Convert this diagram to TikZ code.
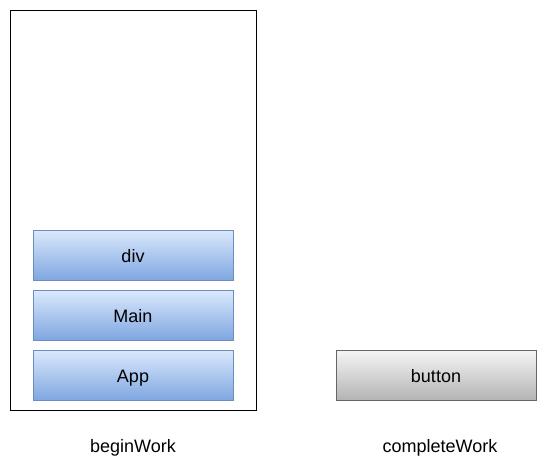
\documentclass[tikz,border=0pt]{standalone}
\usepackage{fontspec}
\setmainfont{Liberation Sans}
\usetikzlibrary{shadings}
\definecolor{bluetop}{HTML}{DAE8FC}
\definecolor{bluebot}{HTML}{7EA6E0}
\definecolor{blueline}{HTML}{6C8EBF}
\definecolor{graytop}{HTML}{F5F5F5}
\definecolor{graybot}{HTML}{B3B3B3}
\definecolor{grayline}{HTML}{666666}
\tikzset{
  label text/.style={font=\fontsize{18pt}{21pt}\selectfont, text height=16pt, text depth=3pt},
  fiber/.style={label text, draw=blueline, line width=0.8pt, top color=bluetop, bottom color=bluebot,
    minimum width=200pt, minimum height=50pt, inner sep=0pt},
  donefiber/.style={label text, draw=grayline, line width=0.8pt, top color=graytop, bottom color=graybot,
    minimum width=200pt, minimum height=50pt, inner sep=0pt},
  caption/.style={label text, inner sep=0pt},
  stackframe/.style={draw=black, line width=0.8pt, fill=white}
}
\begin{document}
\begin{tikzpicture}[x=1pt,y=-1pt]
  \useasboundingbox (0,0) rectangle (552,466);
  % work-in-progress stack
  \draw[stackframe] (10.5,10.5) rectangle (256.5,410.5);
  \node[fiber] (div) at (133,255.5) {div};
  \node[fiber] (main) at (133,315.5) {Main};
  \node[fiber] (app) at (133,375.5) {App};
  % completed fiber
  \node[donefiber] (button) at (436,375.5) {button};
  % phase labels
  \node[caption] (begin) at (133,446) {beginWork};
  \node[caption] (complete) at (440,446) {completeWork};
\end{tikzpicture}
\end{document}
